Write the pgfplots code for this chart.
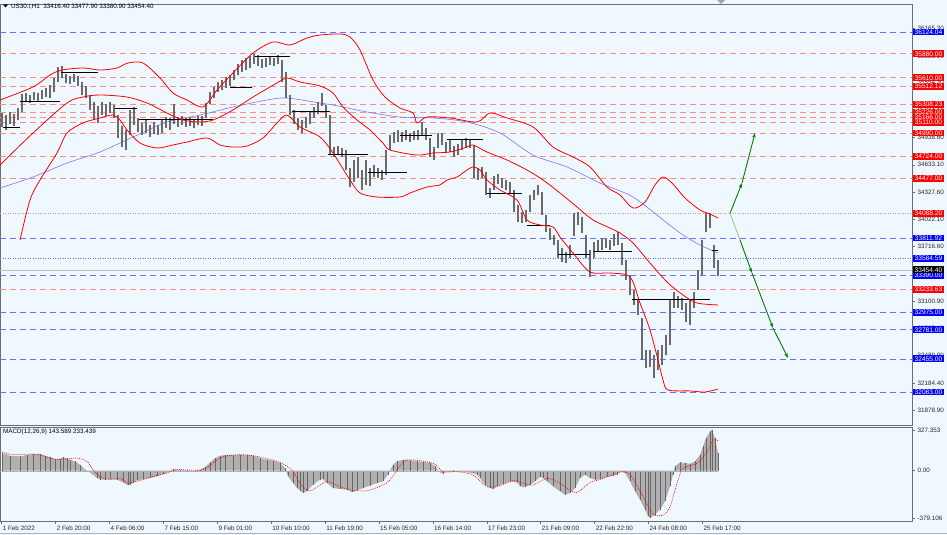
\documentclass[border=0pt]{standalone}
\usepackage{pgfplots}
\pgfplotsset{compat=1.18}
\usepackage{pgfplotstable}
\usepackage{fontspec}
\setmainfont{Liberation Sans}
\usetikzlibrary{arrows.meta}
\definecolor{bgc}{RGB}{240,248,255}
\definecolor{lvlblue}{RGB}{110,110,255}
\definecolor{lvlred}{RGB}{255,140,140}
\definecolor{boxblue}{RGB}{0,0,255}
\definecolor{boxred}{RGB}{255,0,0}
\definecolor{maBlue}{RGB}{120,120,255}
\definecolor{dgreen}{RGB}{0,128,0}
\definecolor{lgreen}{RGB}{150,205,150}
\definecolor{framegray}{RGB}{110,110,110}
\newcommand\sm{\fontsize{6.3}{7}\selectfont}
\newcommand\lb{\fontsize{6.6}{7}\selectfont}

\pgfplotstableread{
x lo hi
2 35058 35215
6 35024 35192
10 35091 35226
14 35069 35204
18 35136 35271
22 35226 35428
26 35349 35439
30 35327 35417
34 35361 35451
38 35349 35439
42 35372 35473
46 35394 35495
50 35383 35529
54 35451 35608
58 35563 35731
62 35608 35742
66 35552 35653
70 35540 35630
74 35563 35653
78 35518 35630
82 35417 35563
86 35383 35518
90 35249 35417
94 35136 35338
98 35103 35293
102 35192 35338
106 35181 35316
110 35215 35338
114 35159 35305
118 34934 35192
122 34833 35069
126 34799 35024
130 34968 35249
134 35080 35282
138 35002 35159
142 34968 35103
146 34990 35136
150 34945 35080
154 34979 35114
158 34968 35080
162 34990 35136
166 35046 35170
170 35024 35159
174 35091 35316
178 35058 35170
182 35080 35181
186 35058 35159
190 35069 35170
194 35046 35147
198 35080 35181
202 35069 35181
206 35159 35327
210 35316 35451
214 35383 35507
218 35451 35563
222 35473 35585
226 35495 35619
230 35518 35641
234 35585 35697
238 35641 35765
242 35675 35810
246 35697 35832
250 35720 35855
254 35765 35877
258 35742 35866
262 35720 35821
266 35731 35832
270 35754 35843
274 35742 35832
278 35765 35866
282 35563 35810
286 35383 35675
290 35192 35417
294 35091 35249
298 35024 35159
302 34990 35136
306 35046 35170
310 35091 35226
314 35159 35282
318 35204 35338
322 35293 35439
326 35159 35305
330 34743 35192
334 34721 34833
338 34743 34844
342 34721 34822
346 34575 34799
350 34384 34597
354 34440 34687
358 34485 34721
362 34350 34575
366 34407 34687
370 34395 34597
374 34496 34631
378 34485 34597
382 34463 34575
386 34519 34799
390 34799 34968
394 34878 35002
398 34889 35024
402 34889 35002
406 34912 35024
410 34889 34990
414 34912 35013
418 34912 35024
422 34957 35114
426 34912 35046
430 34721 34934
434 34687 34833
438 34822 34990
442 34856 34990
446 34766 34889
450 34777 34912
454 34721 34844
458 34743 34867
462 34799 34912
466 34822 34934
470 34822 34923
474 34485 34856
478 34463 34597
482 34485 34609
486 34294 34552
490 34261 34373
494 34350 34508
498 34418 34530
502 34373 34485
506 34350 34463
510 34317 34440
514 34103 34350
518 33991 34182
522 33980 34103
526 33991 34126
530 34103 34294
534 34238 34350
538 34294 34407
542 34070 34328
546 33879 34070
550 33789 33924
554 33733 33845
558 33587 33789
562 33542 33700
566 33531 33654
570 33587 33733
574 33834 34092
578 33958 34103
582 33868 34047
586 33587 33845
590 33374 33677
594 33587 33767
598 33654 33789
602 33677 33812
606 33700 33812
610 33677 33789
614 33722 33857
618 33733 33879
622 33509 33756
626 33340 33565
630 33172 33396
634 33060 33228
638 32947 33116
642 32442 32914
646 32352 32554
650 32364 32554
654 32240 32498
658 32330 32554
662 32386 32611
666 32498 32723
670 32611 33116
674 33026 33206
678 33026 33161
682 33003 33138
686 32869 33082
690 32835 33116
694 33026 33206
698 33228 33452
702 33396 33789
706 33879 34092
710 33924 34092
714 33475 33733
718 33385 33565
}\candles

\pgfplotstableread{
x h
2 142
10 120
20 115
27 128
33 134
40 137
45 120
50 110
55 94
60 96
63 107
67 99
70 88
75 75
80 48
85 8
90 -14
97 -59
100 -72
105 -72
110 -67
117 -72
123 -94
128 -118
130 -112
133 -99
137 -78
143 -67
150 -59
157 -46
163 -27
170 -5
173 13
180 8
187 2
193 0
200 8
205 30
210 67
215 102
220 120
225 126
233 128
240 128
247 128
253 120
260 102
267 88
273 80
280 62
285 21
288 -46
293 -99
297 -139
300 -160
303 -179
307 -166
313 -112
320 -72
323 -67
327 -99
333 -139
340 -147
347 -152
352 -174
357 -158
363 -139
370 -120
377 -99
383 -86
388 -32
393 48
397 75
403 88
410 83
417 75
423 70
430 62
435 35
440 -14
443 -24
447 -5
453 2
460 -5
467 -14
473 -19
477 -32
480 -59
485 -112
490 -139
493 -147
497 -126
503 -104
510 -86
517 -94
520 -126
525 -134
530 -112
535 -86
540 -51
543 -59
547 -86
553 -126
560 -166
565 -193
570 -179
575 -139
580 -59
585 -32
590 -59
595 -72
600 -67
607 -51
613 -40
617 -32
620 -5
625 -19
630 -86
635 -166
640 -233
645 -313
648 -367
650 -379
655 -353
660 -313
665 -246
670 -126
673 -32
675 35
680 67
685 62
690 56
695 75
700 128
703 195
706 262
710 316
712 327
715 262
718 144
}\hist

\pgfplotstableread{
x s
2 150
13 128
30 134
43 120
53 94
67 94
77 102
87 75
93 8
100 -46
110 -72
120 -59
128 -99
140 -78
153 -46
167 -19
177 8
203 8
217 88
227 120
243 128
257 115
277 75
287 35
293 -5
300 -100
310 -160
327 -88
340 -130
352 -155
367 -161
383 -115
390 -75
397 6
407 86
433 59
443 -8
457 -8
473 -35
487 -128
500 -120
513 -80
523 -101
533 -115
547 -61
560 -101
570 -160
577 -175
583 -140
590 -95
600 -70
617 -21
625 -8
633 -61
643 -209
653 -348
663 -356
670 -289
677 -101
683 19
697 59
707 152
713 246
718 240
}\signal

\begin{document}
\begin{tikzpicture}[x=1pt,y=1pt]
\useasboundingbox (0,0) rectangle (947,-535);
\fill[bgc] (0,0) rectangle (947,-535);

\begin{axis}[
  at={(0pt,-4pt)}, anchor=north west,
  scale only axis, width=912pt, height=421pt,
  xmin=0, xmax=912, ymin=31712.6, ymax=36438.3,
  axis line style={draw=framegray, line width=0.6pt},
  xtick=\empty,
  ytick={31878.90,32184.40,32489.90,32795.40,33100.90,33406.40,33716.60,34022.10,34327.60,34633.10,34938.60,35244.10,35554.30,35855.10,36165.30},
  yticklabels={31878.90,32184.40,32489.90,32795.40,33100.90,33406.40,33716.60,34022.10,34327.60,34633.10,34938.60,35244.10,35554.30,35855.10,36165.30},
  ytick pos=right, yticklabel pos=right,
  tick align=outside, major tick length=3pt,
  tick style={framegray, line width=0.5pt},
  yticklabel style={font=\sm, text=black!85, xshift=-1pt},
  unbounded coords=jump,
]
% level lines
\pgfplotsinvokeforeach{36124.04,33811.92,33390.00,32975.00,32781.00,32455.00,32083.00}{
  \addplot[lvlblue, line width=0.7pt, dash pattern=on 6pt off 4pt] coordinates {(0,#1) (912,#1)};
}
\addplot[lvlblue, line width=0.7pt, dash pattern=on 1pt off 1.5pt] coordinates {(0,33584.59) (912,33584.59)};
\pgfplotsinvokeforeach{35880.00,35610.00,35512.12,35308.23,35226.00,35166.00,35110.00,34990.00,34724.00,34477.00,33233.63}{
  \addplot[lvlred, line width=0.7pt, dash pattern=on 6pt off 4pt] coordinates {(0,#1) (912,#1)};
}
\addplot[lvlred, line width=0.7pt, dash pattern=on 1pt off 1.5pt] coordinates {(0,34088.20) (912,34088.20)};
\addplot[black!25, line width=0.6pt] coordinates {(0,33454.40) (912,33454.40)};

% blue moving average
\addplot[maBlue, line width=0.6pt, smooth] coordinates {
(0,34373) (33,34496) (67,34653) (100,34777) (133,34945) (167,35114) (200,35192)
(233,35282) (267,35361) (287,35383) (320,35327) (333,35305) (367,35226) (400,35170)
(433,35159) (467,35114) (500,34990) (533,34743) (567,34609) (600,34429) (633,34272)
(667,33980) (683,33845) (700,33733) (718,33643)};

% candles (high-low ranges)
\addplot[draw=none, mark=none, error bars/.cd, y dir=plus, y explicit, error mark=none,
  error bar style={draw=black!58, solid, line width=2.9pt}]
  table[x=x, y=lo, y error expr=\thisrow{hi}-\thisrow{lo}] {\candles};

% daily open segments
\addplot[black, line width=0.8pt] coordinates {
(3,35058) (20,35058) (20,nan)
(20,35349) (60,35349) (60,nan)
(61,35675) (98,35675) (98,nan)
(115,35271) (137,35271) (137,nan)
(139,35147) (213,35147) (213,nan)
(230,35507) (252,35507) (252,nan)
(255,35855) (290,35855) (290,nan)
(292,35237) (330,35237) (330,nan)
(328,34754) (368,34754) (368,nan)
(368,34552) (407,34552) (407,nan)
(400,34968) (432,34968) (432,nan)
(447,34923) (483,34923) (483,nan)
(487,34317) (522,34317) (522,nan)
(527,33958) (550,33958) (550,nan)
(558,33632) (590,33632) (590,nan)
(593,33665) (632,33665) (632,nan)
(632,33127) (710,33127) (710,nan)
(712,33677) (718,33677)};

% Bollinger bands
\addplot[red, line width=0.8pt, smooth] coordinates {
(0,35361) (33,35507) (50,35641) (62,35697) (83,35720) (100,35697) (117,35720) (128,35776)
(143,35776) (160,35608) (173,35439) (187,35361) (203,35282) (217,35473) (233,35664)
(253,35888) (273,36012) (290,35978) (307,36057) (320,36090) (340,36102) (350,36068)
(360,35922) (373,35585) (385,35394) (400,35271) (413,35215) (417,35103) (427,35170)
(450,35159) (477,35114) (490,35215) (507,35159) (533,35058) (553,34833) (573,34721)
(590,34609) (607,34384) (620,34294) (633,34148) (645,34216) (655,34407) (663,34496)
(672,34429) (685,34261) (700,34126) (710,34081) (718,34036)};
\addplot[red, line width=0.8pt, smooth] coordinates {
(0,34631) (33,34990) (67,35327) (83,35394) (100,35417) (127,35394) (147,35327)
(167,35215) (183,35136) (200,35114) (213,35136) (233,35249) (253,35394) (277,35552)
(287,35608) (300,35563) (320,35518) (333,35439) (343,35282) (357,35136) (370,35024)
(383,34878) (390,34799) (417,34743) (433,34766) (450,34777) (467,34833) (473,34856)
(487,34777) (507,34687) (527,34575) (543,34463) (560,34317) (577,34160) (593,34014)
(610,33924) (620,33868) (633,33756) (650,33531) (667,33318) (683,33172) (697,33082)
(718,33060)};
\addplot[red, line width=0.8pt, smooth] coordinates {
(20,33789) (30,34238) (40,34463) (57,34766) (67,34990) (83,35103) (100,35159)
(113,35192) (120,35136) (127,35024) (140,34878) (157,34822) (173,34856) (187,34889)
(207,34934) (220,34856) (233,34833) (247,34844) (263,34934) (277,35103) (287,35192)
(300,35058) (320,34945) (333,34766) (350,34463) (360,34317) (377,34272) (400,34272)
(410,34317) (427,34384) (440,34407) (447,34463) (457,34496) (467,34575) (473,34609)
(480,34575) (487,34463) (500,34350) (517,34238) (527,34014) (540,33958) (553,33935)
(560,33823) (573,33643) (590,33430) (610,33419) (630,33374) (640,33082) (650,32779)
(658,32442) (663,32218) (668,32106) (690,32095) (705,32083) (718,32117)};

% projection arrows
\addplot[dgreen, line width=0.9pt, -{Stealth[length=5pt,width=3.5pt]}] coordinates {(730,34088.2) (742,34429)};
\addplot[dgreen, line width=0.9pt, -{Stealth[length=5pt,width=3.5pt]}] coordinates {(742,34429) (755,34990)};
\addplot[lgreen, line width=0.9pt] coordinates {(730,34088.2) (740,33790)};
\addplot[dgreen, line width=0.9pt, -{Stealth[length=5pt,width=3.5pt]}] coordinates {(740,33790) (752,33419)};
\addplot[dgreen, line width=0.9pt, -{Stealth[length=5pt,width=3.5pt]}] coordinates {(752,33419) (773,32801)};
\addplot[dgreen, line width=0.9pt, -{Stealth[length=5pt,width=3.5pt]}] coordinates {(773,32801) (788,32465)};

% label anchors
\coordinate (b1) at (axis cs:912,36124.04);
\coordinate (r1) at (axis cs:912,35880.00);
\coordinate (r2) at (axis cs:912,35610.00);
\coordinate (r3) at (axis cs:912,35512.12);
\coordinate (r4) at (axis cs:912,35308.23);
\coordinate (r5) at (axis cs:912,35226.00);
\coordinate (r6) at (axis cs:912,35166.00);
\coordinate (r7) at (axis cs:912,35110.00);
\coordinate (r8) at (axis cs:912,34990.00);
\coordinate (r9) at (axis cs:912,34724.00);
\coordinate (r10) at (axis cs:912,34477.00);
\coordinate (r11) at (axis cs:912,34088.20);
\coordinate (b2) at (axis cs:912,33811.92);
\coordinate (b3) at (axis cs:912,33584.59);
\coordinate (k1) at (axis cs:912,33454.40);
\coordinate (b4) at (axis cs:912,33390.00);
\coordinate (r12) at (axis cs:912,33233.63);
\coordinate (b5) at (axis cs:912,32975.00);
\coordinate (b6) at (axis cs:912,32781.00);
\coordinate (b7) at (axis cs:912,32455.00);
\coordinate (b8) at (axis cs:912,32083.00);
\end{axis}

\begin{axis}[
  at={(0pt,-427pt)}, anchor=north west,
  scale only axis, width=912pt, height=94pt,
  xmin=0, xmax=912, ymin=-404, ymax=351,
  axis line style={draw=framegray, line width=0.6pt},
  xtick={1.7,55.6,109.5,163.4,217.3,271.2,325.1,379,432.9,486.8,540.7,594.6,648.5,702.4},
  xticklabels={1 Feb 2022,2 Feb 20:00,4 Feb 06:00,7 Feb 15:00,9 Feb 01:00,10 Feb 10:00,11 Feb 19:00,15 Feb 05:00,16 Feb 14:00,17 Feb 23:00,21 Feb 09:00,22 Feb 22:00,24 Feb 08:00,25 Feb 17:00},
  xticklabel style={font=\sm, anchor=north west, inner sep=0pt, xshift=1pt, yshift=-1.5pt, text=black!85},
  ytick={-379.106,0,327.353},
  yticklabels={-379.106,0.00,327.353},
  xtick pos=bottom, ytick pos=right, yticklabel pos=right,
  tick align=outside, major tick length=3pt,
  tick style={framegray, line width=0.5pt},
  yticklabel style={font=\sm, text=black!85, xshift=-1pt},
]
\addplot[fill=gray!62, draw=none] table[x=x, y=h] {\hist} \closedcycle;
\addplot[ycomb, draw=gray!80!black, line width=0.35pt, mark=none] table[x=x, y=h] {\hist};
\addplot[gray!60, line width=0.4pt] coordinates {(0,0) (718,0)};
\addplot[red, line width=0.6pt, dash pattern=on 1pt off 1pt, smooth] table[x=x, y=s] {\signal};
\end{axis}

% price labels
\tikzset{lab/.style={anchor=west, inner sep=0pt, minimum height=6.8pt, minimum width=30.5pt, text=white, font=\lb, xshift=1pt}}
\node[lab, fill=boxblue] at (b1) {36124.04};
\node[lab, fill=boxred] at (r1) {35880.00};
\node[lab, fill=boxred] at (r2) {35610.00};
\node[lab, fill=boxred] at (r3) {35512.12};
\node[lab, fill=boxred] at (r4) {35308.23};
\node[lab, fill=boxred] at (r5) {35226.00};
\node[lab, fill=boxred] at (r6) {35166.00};
\node[lab, fill=boxred] at (r7) {35110.00};
\node[lab, fill=boxred] at (r8) {34990.00};
\node[lab, fill=boxred] at (r9) {34724.00};
\node[lab, fill=boxred] at (r10) {34477.00};
\node[lab, fill=boxred] at (r11) {34088.20};
\node[lab, fill=boxblue] at (b2) {33811.92};
\node[lab, fill=boxblue] at (b3) {33584.59};
\node[lab, fill=boxblue] at (b4) {33390.00};
\node[lab, fill=black] at (k1) {33454.40};
\node[lab, fill=boxred] at (r12) {33233.63};
\node[lab, fill=boxblue] at (b5) {32975.00};
\node[lab, fill=boxblue] at (b6) {32781.00};
\node[lab, fill=boxblue] at (b7) {32455.00};
\node[lab, fill=boxblue] at (b8) {32083.00};

% headers and frame details
\fill[black] (3,-4.5) -- (8,-4.5) -- (5.5,-7.5) -- cycle;
\node[anchor=west, inner sep=0pt, font=\sm] at (11,-6.5) {US30.i,H1\ \ 33416.40 33477.90 33380.90 33454.40};
\node[anchor=west, inner sep=0pt, font=\sm] at (3,-432) {MACD(12,26,9) 143.589 233.439};
\fill[gray!70] (717,0) -- (725,0) -- (721,-4) -- cycle;
\draw[gray!60, line width=0.6pt] (0,-533) -- (947,-533);
\end{tikzpicture}
\end{document}
